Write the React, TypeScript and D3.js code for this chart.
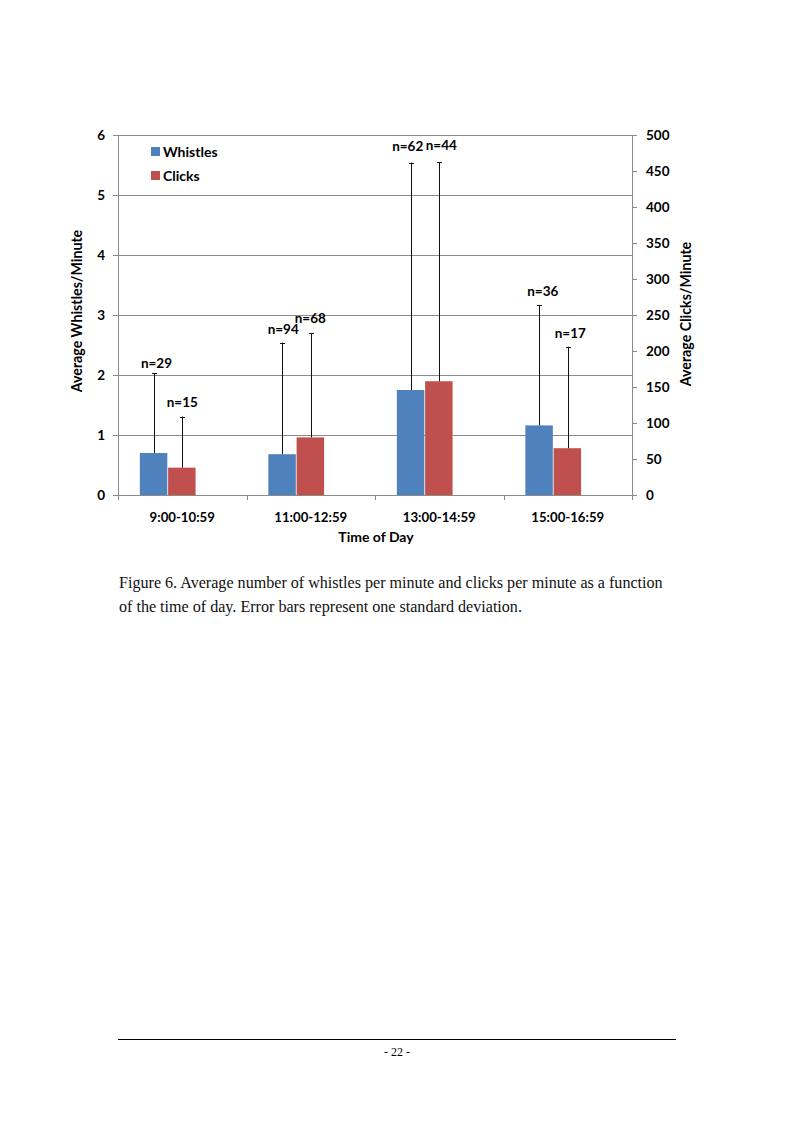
import React from "react";
import * as d3 from "d3";

const categories = ["9:00-10:59", "11:00-12:59", "13:00-14:59", "15:00-16:59"];
const seriesNames = ["Whistles", "Clicks"];
const whistlesMean = [0.7, 0.68, 1.75, 1.16];
const whistlesSD = [1.33, 1.86, 3.79, 2.0];
const whistlesN = [29, 94, 62, 36];
const clicksMean = [38, 80, 158, 65];
const clicksSD = [71, 145, 304, 141];
const clicksN = [15, 68, 44, 17];
const whistleTicks = [0, 1, 2, 3, 4, 5, 6];
const clickTicks = [0, 50, 100, 150, 200, 250, 300, 350, 400, 450, 500];

// manual label placement nudges (dx, gap above error bar) as in the original
const whistleLabelNudge = [[2.5, 5], [0.7, 8.5], [-3.3, 12], [3.3, 9]];
const clickLabelNudge = [[0, 10], [-0.5, 10.5], [2, 12], [2.5, 8.5]];

const W = 794;
const H = 1123;
const left = 118;
const right = 632;
const top = 135;
const bottom = 495;
const BLUE = "#4F81BD";
const RED = "#C0504D";
const GRID = "#8a8a8a";
const FONT = "Lato, 'Open Sans', sans-serif";

export default function App() {
  const x0 = d3.scaleBand<string>().domain(categories).range([left, right]).paddingInner(0.34).paddingOuter(0.17);
  const slots = [...seriesNames, "_spacer"];
  const x1 = d3.scaleBand<string>().domain(slots).range([0, x0.bandwidth()]).padding(0);
  const yW = d3.scaleLinear().domain([0, 6]).range([bottom, top]);
  const yC = d3.scaleLinear().domain([0, 500]).range([bottom, top]);

  const step = x0.step();
  const boundaries = d3.range(categories.length + 1).map((i) => left + i * step);

  const series = [
    { name: "Whistles", mean: whistlesMean, sd: whistlesSD, n: whistlesN, y: yW, color: BLUE, nudge: whistleLabelNudge },
    { name: "Clicks", mean: clicksMean, sd: clicksSD, n: clicksN, y: yC, color: RED, nudge: clickLabelNudge },
  ];

  const bw = x1.bandwidth();

  return (
    <svg width={W} height={H} style={{ position: "absolute", left: 0, top: 0, background: "#fff" }} fontFamily={FONT}>
      <rect x={0} y={0} width={W} height={H} fill="#fff" />
      {/* gridlines */}
      {whistleTicks.filter((t) => t > 0).map((t) => (
        <line key={"g" + t} x1={left} x2={right} y1={Math.round(yW(t)) + 0.5} y2={Math.round(yW(t)) + 0.5} stroke={GRID} strokeWidth={1} />
      ))}
      {/* axes lines */}
      <line x1={left + 0.5} x2={left + 0.5} y1={top} y2={bottom} stroke={GRID} />
      <line x1={right + 0.5} x2={right + 0.5} y1={top} y2={bottom} stroke={GRID} />
      <line x1={left} x2={right + 1} y1={bottom + 0.5} y2={bottom + 0.5} stroke={GRID} />
      {/* left ticks */}
      {whistleTicks.map((t) => (
        <g key={"lt" + t}>
          <line x1={left - 5} x2={left} y1={Math.round(yW(t)) + 0.5} y2={Math.round(yW(t)) + 0.5} stroke={GRID} />
          <text x={left - 13} y={yW(t)} dy="0.35em" textAnchor="end" fontSize={13.5} fontWeight={700} fill="#000">{t}</text>
        </g>
      ))}
      {/* right ticks */}
      {clickTicks.map((t) => (
        <g key={"rt" + t}>
          <line x1={right} x2={right + 5} y1={Math.round(yC(t)) + 0.5} y2={Math.round(yC(t)) + 0.5} stroke={GRID} />
          <text x={right + 14} y={yC(t)} dy="0.35em" textAnchor="start" fontSize={13.5} fontWeight={700} fill="#000">{t}</text>
        </g>
      ))}
      {/* bottom ticks */}
      {boundaries.map((b, i) => (
        <line key={"bt" + i} x1={Math.round(b) + 0.5} x2={Math.round(b) + 0.5} y1={bottom} y2={bottom + 5} stroke={GRID} />
      ))}
      {categories.map((c) => (
        <text key={"cl" + c} x={left + (categories.indexOf(c) + 0.5) * step} y={522} textAnchor="middle" fontSize={13.2} fontWeight={700} fill="#000">{c}</text>
      ))}
      <text x={(left + right) / 2 + 1} y={542} textAnchor="middle" fontSize={14} fontWeight={700} fill="#000">Time of Day</text>
      <text transform={`translate(82,${(top + bottom) / 2 - 4}) rotate(-90)`} textAnchor="middle" fontSize={14.2} fontWeight={700} fill="#000">Average Whistles/Minute</text>
      <text transform={`translate(691,${(top + bottom) / 2 - 1}) rotate(-90)`} textAnchor="middle" fontSize={14.2} fontWeight={700} fill="#000">Average Clicks/Minute</text>

      {/* bars */}
      {series.map((s) =>
        categories.map((c, i) => {
          const bx = (x0(c) as number) + (x1(s.name) as number);
          const yTop = s.y(s.mean[i]);
          const errTop = s.y(s.mean[i] + s.sd[i]);
          const cx = bx + bw / 2;
          const [ndx, gap] = s.nudge[i];
          return (
            <g key={s.name + c}>
              <rect x={bx} y={yTop} width={bw - 0.8} height={bottom - yTop} fill={s.color} />
              <line x1={Math.round(cx) + 0.5} x2={Math.round(cx) + 0.5} y1={errTop} y2={yTop} stroke="#111" strokeWidth={1} />
              <line x1={Math.round(cx) - 2} x2={Math.round(cx) + 3} y1={Math.round(errTop) + 0.5} y2={Math.round(errTop) + 0.5} stroke="#111" strokeWidth={1} />
              <text x={cx + ndx} y={errTop - gap} textAnchor="middle" fontSize={13.5} fontWeight={700} fill="#000">{"n=" + s.n[i]}</text>
            </g>
          );
        })
      )}

      {/* legend */}
      {series.map((s, i) => (
        <g key={"lg" + s.name} transform={`translate(151,${147 + i * 24})`}>
          <rect x={0} y={0} width={9} height={9} fill={s.color} />
          <text x={12} y={10} fontSize={14} fontWeight={700} fill="#000">{s.name}</text>
        </g>
      ))}

      {/* caption */}
      <g fontFamily="'Liberation Serif', 'Times New Roman', serif" fontSize={16.1} fill="#111">
        <text x={119} y={588}>Figure 6. Average number of whistles per minute and clicks per minute as a function</text>
        <text x={119} y={612}>of the time of day. Error bars represent one standard deviation.</text>
      </g>

      {/* footer */}
      <line x1={118} x2={676} y1={1039.5} y2={1039.5} stroke="#000" strokeWidth={1} />
      <text x={397} y={1056} textAnchor="middle" fontFamily="'Liberation Serif', 'Times New Roman', serif" fontSize={12} fill="#000">- 22 -</text>
    </svg>
  );
}
